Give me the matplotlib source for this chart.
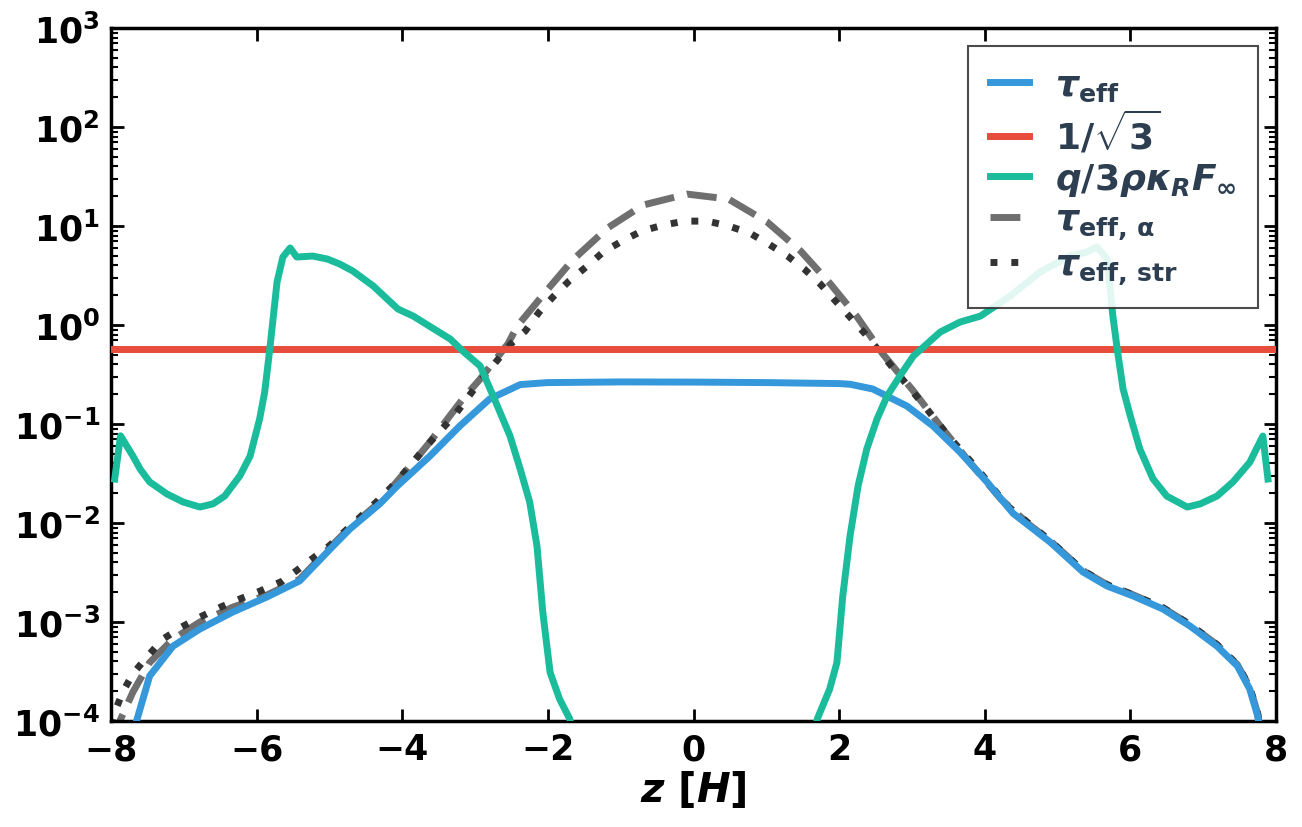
import matplotlib
matplotlib.use("Agg")
import matplotlib.pyplot as plt
import numpy as np

plt.rcParams.update({
    "font.family": "DejaVu Sans",
    "font.weight": "bold",
    "mathtext.fontset": "custom",
    "mathtext.rm": "DejaVu Sans:bold",
    "mathtext.bf": "DejaVu Sans:bold",
    "mathtext.it": "DejaVu Sans:bold:italic",
    "mathtext.default": "it",
})

# tau_eff
z_eff = [-7.70, -7.65, -7.47, -7.15, -6.78, -6.33, -5.86, -5.41, -4.99, -4.72, -4.31,
         -4.07, -3.62, -3.21, -2.80, -2.38, -2.01, -1.0, 0.0, 1.0, 2.0, 2.15, 2.46,
         2.93, 3.29, 3.66, 4.03, 4.39, 4.90, 5.35, 5.68, 6.04, 6.45, 6.82, 7.19, 7.47,
         7.64, 7.75, 7.80]
tau_eff = [6e-5, 1.0e-4, 2.85e-4, 5.7e-4, 8.5e-4, 1.26e-3, 1.79e-3, 2.6e-3, 5.46e-3,
           8.7e-3, 0.0156, 0.0236, 0.0475, 0.0955, 0.179, 0.25, 0.262, 0.266, 0.265,
           0.262, 0.256, 0.252, 0.226, 0.152, 0.0955, 0.052, 0.026, 0.0125, 6.4e-3,
           3.2e-3, 2.31e-3, 1.83e-3, 1.35e-3, 9.1e-4, 5.7e-4, 3.6e-4, 2.1e-4, 1.12e-4, 6e-5]

# q / 3 rho kappa_R F_inf
z_q = [-7.95, -7.87, -7.70, -7.60, -7.47, -7.23, -7.01, -6.78, -6.60, -6.44, -6.23,
       -6.09, -5.96, -5.89, -5.82, -5.72, -5.64, -5.54, -5.45, -5.23, -5.03, -4.86,
       -4.68, -4.40, -4.06, -3.85, -3.34, -3.17, -2.93, -2.75, -2.52, -2.38, -2.25,
       -2.15, -2.07, -1.97, -1.84, -1.70, -1.60,
       1.62, 1.70, 1.87, 1.97, 2.05, 2.15, 2.26, 2.38, 2.52, 2.66, 2.84, 3.02, 3.39,
       3.66, 3.94, 4.35, 4.76, 5.17, 5.40, 5.54, 5.68, 5.76, 5.82, 5.90, 6.00, 6.13,
       6.31, 6.50, 6.78, 6.96, 7.19, 7.41, 7.64, 7.82, 7.89]
q_ratio = [0.0278, 0.076, 0.0475, 0.035, 0.026, 0.0196, 0.0163, 0.0145, 0.0156, 0.0187,
           0.030, 0.0475, 0.112, 0.21, 0.57, 2.72, 4.86, 6.0, 4.86, 4.97, 4.64, 4.13,
           3.51, 2.48, 1.45, 1.23, 0.72, 0.546, 0.385, 0.19, 0.0756, 0.035, 0.0163,
           0.00586, 0.00126, 3.1e-4, 1.67e-4, 1.05e-4, 5e-5,
           5e-5, 1.05e-4, 2.1e-4, 3.9e-4, 1.83e-3, 7.4e-3, 0.0236, 0.056, 0.112, 0.192,
           0.31, 0.486, 0.85, 1.07, 1.23, 1.96, 3.43, 4.98, 5.46, 6.14, 4.64, 1.23, 0.57,
           0.226, 0.12, 0.056, 0.028, 0.0187, 0.0145, 0.0156, 0.0187, 0.026, 0.041,
           0.0756, 0.0278]

# tau_eff,alpha
z_alpha = [-7.95, -7.88, -7.70, -7.47, -7.15, -6.78, -6.33, -5.86, -5.41, -4.99, -4.72,
           -4.31, -3.85, -3.62, -3.17, -2.93, -2.55, -2.42, -2.01, -1.66, -1.18, -0.69,
           -0.09, 0.48, 1.01, 1.47, 1.88, 2.24, 2.60, 3.01, 3.39, 3.76, 4.22, 4.62, 4.90,
           5.35, 5.68, 6.04, 6.45, 6.82, 7.19, 7.47, 7.64, 7.75, 7.80]
tau_alpha = [6e-5, 1.0e-4, 1.96e-4, 3.9e-4, 6.7e-4, 1.0e-3, 1.41e-3, 1.87e-3, 2.7e-3,
             5.7e-3, 9.0e-3, 0.0163, 0.041, 0.0658, 0.179, 0.285, 0.643, 0.977, 2.26,
             4.53, 9.55, 16.3, 21.0, 18.7, 11.0, 5.6, 2.6, 1.23, 0.51, 0.22, 0.0955,
             0.044, 0.0175, 9.5e-3, 6.6e-3, 3.3e-3, 2.38e-3, 1.88e-3, 1.39e-3, 9.4e-4,
             5.9e-4, 3.7e-4, 2.2e-4, 1.18e-4, 6.5e-5]

# tau_eff,str
z_str = [-8.0, -7.95, -7.84, -7.70, -7.50, -7.29, -7.03, -6.78, -6.50, -6.23, -5.95,
         -5.64, -5.0, -4.72, -4.31, -4.08, -3.68, -3.28, -2.93, -2.51, -2.31, -2.12,
         -1.93, -1.71, -1.46, -1.24, -0.98, -0.71, -0.42, -0.12, 0.19, 0.48, 0.77, 1.03,
         1.29, 1.52, 1.74, 1.95, 2.15, 2.36, 2.74, 3.14, 3.50, 3.90, 4.31, 4.90, 5.35,
         5.68, 6.04, 6.45, 6.82, 7.19, 7.47, 7.64, 7.75, 7.80]
tau_str = [9e-5, 1.23e-4, 1.96e-4, 3.0e-4, 4.5e-4, 6.7e-4, 8.9e-4, 1.12e-3, 1.41e-3,
           1.71e-3, 2.06e-3, 2.6e-3, 5.9e-3, 9.2e-3, 0.0175, 0.026, 0.0586, 0.123, 0.272,
           0.643, 0.87, 1.35, 1.92, 2.78, 3.94, 5.46, 7.05, 8.9, 10.2, 11.2, 11.2, 10.0,
           8.5, 6.58, 4.98, 3.68, 2.6, 1.75, 1.2, 0.81, 0.368, 0.163, 0.0756, 0.035,
           0.0149, 6.6e-3, 3.3e-3, 2.38e-3, 1.88e-3, 1.39e-3, 9.4e-4, 5.9e-4, 3.7e-4,
           2.2e-4, 1.18e-4, 6.5e-5]

z_lim = [-8, 8]
y_lim = [1e-4, 1e3]
x_ticks = [-8, -6, -4, -2, 0, 2, 4, 6, 8]

fig = plt.figure(figsize=(13.02, 8.28), dpi=100)
ax = fig.add_axes([0.0853, 0.128, 0.8947, 0.837])

# NaN gap between the two halves of the green curve
zq = np.array(z_q)
qq = np.array(q_ratio)
gap = np.argmax(zq > 0)
zq = np.insert(zq, gap, np.nan)
qq = np.insert(qq, gap, np.nan)

l_alpha, = ax.plot(z_alpha, tau_alpha, color="#6f6f6f", lw=5, ls=(0, (4.3, 1.9)), zorder=2)
l_str, = ax.plot(z_str, tau_str, color="#333333", lw=5, ls=(0, (1, 2)), zorder=2)
l_eff, = ax.plot(z_eff, tau_eff, color="#3498db", lw=5, zorder=3)
l_red = ax.axhline(1 / np.sqrt(3), color="#e74c3c", lw=5, zorder=3)
l_q, = ax.plot(zq, qq, color="#1abc9c", lw=5, zorder=3)

ax.set_yscale("log")
ax.set_xlim(z_lim)
ax.set_ylim(y_lim)
ax.set_xticks(x_ticks)
ax.set_xlabel(r"$z\ [H]$", fontsize=29, labelpad=2)

ax.tick_params(which="both", direction="in", top=True, right=True, labelsize=25, pad=8)
ax.tick_params(which="major", length=9, width=2)
ax.tick_params(which="minor", length=5, width=1.5)
for s in ax.spines.values():
    s.set_linewidth(2.5)

leg = ax.legend([l_eff, l_red, l_q, l_alpha, l_str],
                [r"$\tau_{\rm eff}$", r"$1/\sqrt{3}$", r"$q/3\rho\kappa_R F_\infty$",
                 r"$\tau_{\rm eff,\,\alpha}$", r"$\tau_{\rm eff,\,str}$"],
                loc="upper right", fontsize=26, handlelength=1.1, labelspacing=0.15,
                borderpad=0.6, handletextpad=0.7, labelcolor="#2c3e50",
                fancybox=False, framealpha=0.88, edgecolor="#333333")
leg.get_frame().set_linewidth(1.5)

fig.savefig("out.png", dpi=100)
